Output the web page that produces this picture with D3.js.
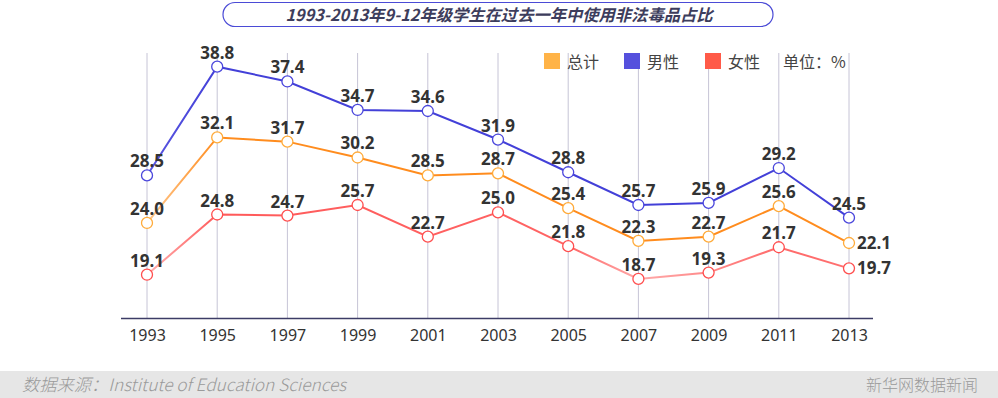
<!DOCTYPE html>
<html>
<head>
<meta charset="utf-8">
<script src="https://cdn.jsdelivr.net/npm/d3@7"></script>
<style>
  body { margin: 0; background: #fff; }
  svg { display: block; font-family: "Noto Sans CJK SC", "Open Sans", sans-serif; }
</style>
</head>
<body>
<div id="chart"></div>
<script>
// data
const years = ["1993", "1995", "1997", "1999", "2001", "2003", "2005", "2007", "2009", "2011", "2013"];
const total = [24.0, 32.1, 31.7, 30.2, 28.5, 28.7, 25.4, 22.3, 22.7, 25.6, 22.1];
const male = [28.5, 38.8, 37.4, 34.7, 34.6, 31.9, 28.8, 25.7, 25.9, 29.2, 24.5];
const female = [19.1, 24.8, 24.7, 25.7, 22.7, 25.0, 21.8, 18.7, 19.3, 21.7, 19.7];
const seriesNames = ["总计", "男性", "女性"];

const W = 998, H = 398;
const svg = d3.select("#chart").append("svg").attr("width", W).attr("height", H);

// title
svg.append("rect")
  .attr("x", 223).attr("y", 2.5).attr("width", 550).attr("height", 24)
  .attr("rx", 12).attr("ry", 12)
  .attr("fill", "#fff").attr("stroke", "#4b4bd6").attr("stroke-width", 1.2);
svg.append("text")
  .attr("x", 499).attr("y", 20.5)
  .attr("text-anchor", "middle")
  .attr("font-size", 16.3).attr("font-weight", "bold").attr("font-style", "italic")
  .attr("fill", "#3d3d5c")
  .text("1993-2013年9-12年级学生在过去一年中使用非法毒品占比");

// scales
const x = d3.scalePoint().domain(years).range([147, 849]);
const y = d3.scaleLinear().domain([15, 40]).range([318, 54]);

// grid
svg.append("g").selectAll("line").data(years).enter().append("line")
  .attr("x1", d => x(d)).attr("x2", d => x(d))
  .attr("y1", y(40) - 1).attr("y2", y(15))
  .attr("stroke", "#c6c4d6").attr("stroke-width", 1);

// x axis
const xAxis = d3.axisBottom(x).tickSize(0).tickPadding(12);
const gx = svg.append("g").attr("transform", "translate(0," + y(15) + ")").call(xAxis);
gx.select(".domain").attr("d", "M121,0.5H873").attr("stroke", "#3c3c66").attr("stroke-width", 1.3);
gx.selectAll("text").attr("font-size", 16).attr("fill", "#333")
  .attr("font-family", "'Noto Sans', 'Open Sans', sans-serif");

// gradients (lighter segments as in the original)
const defs = svg.append("defs");
function grad(id, stops) {
  const g = defs.append("linearGradient").attr("id", id)
    .attr("gradientUnits", "userSpaceOnUse")
    .attr("x1", x(years[0])).attr("x2", x(years[years.length - 1]))
    .attr("y1", 0).attr("y2", 0);
  const span = x(years[years.length - 1]) - x(years[0]);
  stops.forEach(s => g.append("stop")
    .attr("offset", (x(s[0]) - x(years[0])) / span)
    .attr("stop-color", s[1]));
}
grad("gTotal", [["1993", "#ffc88f"], ["1995", "#ff8c1e"], ["2013", "#ff8c1e"]]);
grad("gMale", [["1993", "#5a56e0"], ["1995", "#4340d8"], ["2013", "#4340d8"]]);
grad("gFemale", [["1993", "#ffb0b0"], ["1995", "#ff5a5a"], ["2005", "#ff6464"],
  ["2007", "#ffaaaa"], ["2011", "#ff6a6a"], ["2013", "#ff7070"]]);

const series = [
  { name: seriesNames[1], values: male, line: "url(#gMale)", dot: "#4a46dc" },
  { name: seriesNames[0], values: total, line: "url(#gTotal)", dot: "#ffab3a" },
  { name: seriesNames[2], values: female, line: "url(#gFemale)", dot: "#ff4f4f" }
];

const line = d3.line().x((d, i) => x(years[i])).y(d => y(d));

series.forEach(s => {
  svg.append("path").datum(s.values)
    .attr("d", line)
    .attr("fill", "none")
    .attr("stroke", s.line)
    .attr("stroke-width", 2);
});

series.forEach(s => {
  svg.append("g").selectAll("circle").data(s.values).enter().append("circle")
    .attr("cx", (d, i) => x(years[i])).attr("cy", d => y(d))
    .attr("r", 5.5)
    .attr("fill", "#fff").attr("stroke", s.dot).attr("stroke-width", 1.3);
});

// value labels (last total / female labels sit right of the point)
const side = (s, i) => i === years.length - 1 && s.name !== "男性";
series.forEach(s => {
  svg.append("g").selectAll("text").data(s.values).enter().append("text")
    .attr("x", (d, i) => side(s, i) ? x(years[i]) + 8 : x(years[i]))
    .attr("y", (d, i) => side(s, i) ? y(d) + 6 : y(d) - 8)
    .attr("text-anchor", (d, i) => side(s, i) ? "start" : "middle")
    .attr("font-size", 17).attr("font-weight", "bold").attr("fill", "#333")
    .attr("font-family", "'Noto Sans', 'Open Sans', sans-serif")
    .text(d => d.toFixed(1));
});

// legend
const legend = [
  { label: seriesNames[0], color: "#ffb347", x: 544 },
  { label: seriesNames[1], color: "#5550dd", x: 624 },
  { label: seriesNames[2], color: "#ff5a48", x: 705 }
];
legend.forEach(l => {
  svg.append("rect").attr("x", l.x).attr("y", 53).attr("width", 16).attr("height", 16)
    .attr("fill", l.color);
  svg.append("text").attr("x", l.x + 23).attr("y", 67.5)
    .attr("font-size", 16).attr("fill", "#444").text(l.label);
});
svg.append("text").attr("x", 783).attr("y", 67.5)
  .attr("font-size", 16).attr("fill", "#444").text("单位：%");

// footer
svg.append("rect").attr("x", 0).attr("y", 371).attr("width", W).attr("height", 27)
  .attr("fill", "#e6e6e6");
svg.append("text").attr("x", 22).attr("y", 390.5)
  .attr("font-size", 17).attr("font-style", "italic").attr("fill", "#9a9a9a")
  .attr("font-weight", 300)
  .attr("textLength", 324).attr("lengthAdjust", "spacingAndGlyphs")
  .text("数据来源：Institute of Education Sciences");
svg.append("text").attr("x", 978).attr("y", 390.5).attr("text-anchor", "end")
  .attr("font-size", 16).attr("fill", "#9a9a9a").attr("font-weight", 300)
  .text("新华网数据新闻");
</script>
</body>
</html>
